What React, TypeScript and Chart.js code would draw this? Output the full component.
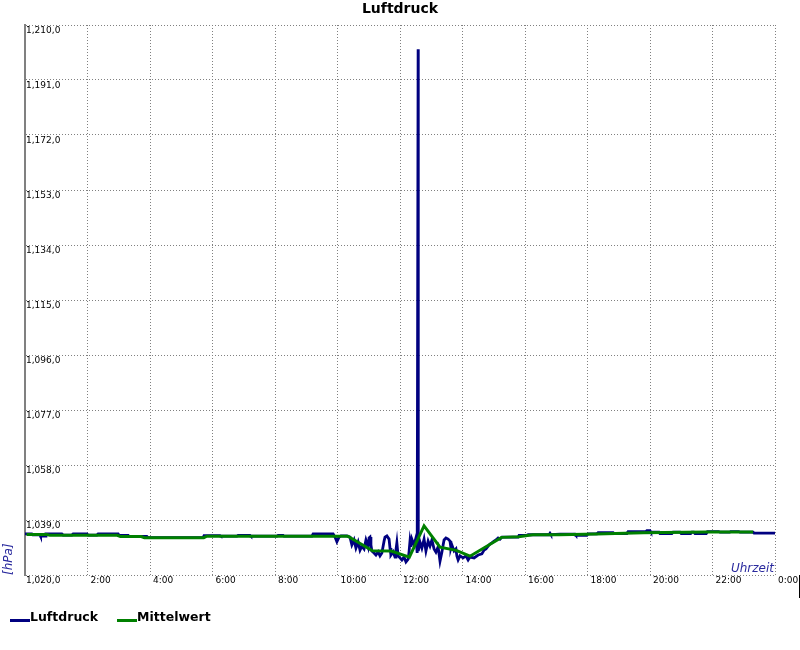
import React, { useEffect, useRef } from 'react';
import { Chart, registerables } from 'chart.js';

Chart.register(...registerables);

const chartTitle = 'Luftdruck';
const yAxisTitle = '[hPa]';
const xAxisTitle = 'Uhrzeit';
const seriesNames = ['Luftdruck', 'Mittelwert'];
const seriesColors = ['#000080', '#008000'];

const yTicks = [1020, 1039, 1058, 1077, 1096, 1115, 1134, 1153, 1172, 1191, 1210];
const yTickLabels = ['1,020,0', '1,039,0', '1,058,0', '1,077,0', '1,096,0', '1,115,0', '1,134,0', '1,153,0', '1,172,0', '1,191,0', '1,210,0'];
const xTicks = [0, 2, 4, 6, 8, 10, 12, 14, 16, 18, 20, 22, 24];
const xTickLabels = ['', '2:00', '4:00', '6:00', '8:00', '10:00', '12:00', '14:00', '16:00', '18:00', '20:00', '22:00', '0:00'];

// Luftdruck (hours of day, hPa)
const luftdruckHours = [
  0.00, 0.22, 0.25, 0.48, 0.50, 0.64, 0.67, 1.18, 1.22, 1.50, 1.54, 1.98, 2.02, 2.30, 2.34, 2.98,
  3.01, 3.30, 3.33, 3.90, 3.94, 5.70, 5.73, 6.24, 6.27, 6.78, 6.82, 7.20, 7.23, 8.06, 8.10, 8.26,
  8.29, 9.18, 9.22, 9.86, 9.92, 9.98, 10.05, 10.11, 10.30, 10.40, 10.46, 10.53, 10.59, 10.66, 10.72,
  10.78, 10.85, 10.91, 10.98, 11.01, 11.04, 11.07, 11.10, 11.17, 11.23, 11.30, 11.36, 11.42, 11.49,
  11.52, 11.58, 11.65, 11.68, 11.71, 11.78, 11.84, 11.87, 11.90, 11.94, 12.00, 12.06, 12.13, 12.19,
  12.26, 12.29, 12.32, 12.35, 12.38, 12.45, 12.51, 12.55, 12.575, 12.58, 12.585, 12.64, 12.70, 12.77,
  12.83, 12.90, 12.96, 13.02, 13.09, 13.15, 13.22, 13.28, 13.34, 13.38, 13.41, 13.47, 13.54, 13.60,
  13.63, 13.66, 13.73, 13.79, 13.82, 13.86, 13.92, 14.02, 14.11, 14.18, 14.24, 14.37, 14.50, 14.62,
  14.69, 14.75, 14.82, 14.88, 14.94, 15.01, 15.07, 15.14, 15.20, 15.26, 15.78, 15.81, 16.06, 16.10,
  16.77, 16.80, 16.83, 17.12, 17.60, 17.63, 17.98, 18.02, 18.30, 18.34, 18.82, 18.85, 19.26, 19.30,
  19.87, 19.90, 20.00, 20.03, 20.29, 20.32, 20.70, 20.74, 20.96, 21.00, 21.30, 21.34, 21.40, 21.44,
  21.80, 21.84, 22.20, 22.24, 22.55, 22.58, 22.84, 22.88, 23.30, 23.33, 24.00,
];
const luftdruckValues = [
  1034.2, 1034.2, 1033.9, 1033.9, 1033.4, 1033.4, 1034.2, 1034.2, 1033.8, 1033.8, 1034.2, 1034.2, 1033.8, 1033.8, 1034.2, 1034.2,
  1033.7, 1033.7, 1033.3, 1033.3, 1032.9, 1032.9, 1033.6, 1033.6, 1033.4, 1033.4, 1033.7, 1033.7, 1033.4, 1033.4, 1033.7, 1033.7,
  1033.4, 1033.4, 1034.2, 1034.2, 1033.1, 1031.5, 1033.1, 1033.5, 1033.5, 1033.1, 1030.4, 1032.1, 1029.3, 1031.4, 1028.6,
  1030.0, 1029.0, 1032.1, 1029.7, 1032.8, 1033.1, 1030.4, 1028.3, 1027.6, 1026.9, 1028.0, 1026.6, 1027.6, 1031.7,
  1033.1, 1033.5, 1032.4, 1029.3, 1026.9, 1028.0, 1026.2, 1028.6, 1031.1, 1026.6, 1025.9, 1025.2, 1026.2, 1024.5,
  1025.5, 1028.0, 1031.7, 1029.7, 1032.4, 1030.4, 1032.8, 1027.6, 1027.6, 1201.6, 1028.3, 1031.4, 1029.3, 1032.4,
  1028.3, 1031.7, 1030.0, 1032.1, 1029.0, 1027.9, 1029.7, 1024.8, 1027.9, 1030.4, 1032.1, 1032.8, 1032.4, 1031.7,
  1029.3, 1030.4, 1028.3, 1029.0, 1026.6, 1025.2, 1026.6, 1025.9, 1026.6, 1025.2, 1026.2, 1025.9, 1026.9, 1027.3,
  1028.6, 1029.0, 1030.0, 1030.7, 1031.1, 1031.7, 1032.1, 1032.8, 1032.4, 1033.1, 1033.1, 1033.7, 1033.7, 1033.9,
  1033.9, 1034.4, 1033.9, 1034.1, 1034.1, 1033.7, 1033.7, 1034.2, 1034.2, 1034.6, 1034.6, 1034.3, 1034.3, 1035.0,
  1035.0, 1035.3, 1035.3, 1034.8, 1034.8, 1034.3, 1034.3, 1034.8, 1034.8, 1034.3, 1034.3, 1034.8, 1034.8, 1034.3,
  1034.3, 1035.0, 1035.0, 1034.8, 1034.8, 1035.0, 1035.0, 1034.8, 1034.8, 1034.5, 1034.5,
];

// Mittelwert (hours of day, hPa)
const mittelwertHours = [
  0.05, 0.70, 0.80, 2.95, 3.05, 3.72, 3.82, 5.72, 5.82, 10.33, 11.12, 11.72, 12.30, 12.77, 13.28,
  13.80, 14.24, 15.25, 15.80, 16.25, 17.10, 18.30, 19.78, 21.80, 23.30,
];
const mittelwertValues = [
  1034.0, 1034.0, 1033.7, 1033.7, 1033.3, 1033.3, 1032.9, 1032.9, 1033.4, 1033.4, 1028.4, 1028.3, 1026.2, 1037.0, 1029.6,
  1028.5, 1026.5, 1033.0, 1033.2, 1033.9, 1033.9, 1034.2, 1034.6, 1034.85, 1034.85,
];

const FONT = '"DejaVu Sans", Verdana, sans-serif';

const decorPlugin = {
  id: 'decor',
  afterDraw(chart: any) {
    const { ctx, chartArea } = chart;
    ctx.save();
    // title
    ctx.fillStyle = '#000';
    ctx.font = `bold 14px ${FONT}`;
    ctx.textAlign = 'center';
    ctx.textBaseline = 'alphabetic';
    ctx.fillText(chartTitle, chart.width / 2, 13);

    // axis titles
    ctx.fillStyle = '#2a2a9e';
    ctx.font = `italic 12px ${FONT}`;
    ctx.textAlign = 'right';
    ctx.fillText(xAxisTitle, chartArea.right - 1, chartArea.bottom - 3);
    ctx.save();
    ctx.translate(11.5, chartArea.bottom);
    ctx.rotate(-Math.PI / 2);
    ctx.textAlign = 'left';
    ctx.fillText(yAxisTitle, 0, 0);
    ctx.restore();

    // legend
    ctx.font = `bold 12.5px ${FONT}`;
    ctx.textAlign = 'left';
    let x = 10;
    const y = 621;
    seriesNames.forEach((name, i) => {
      ctx.fillStyle = seriesColors[i];
      ctx.fillRect(x, y - 2, 20, 3);
      ctx.fillStyle = '#000';
      ctx.fillText(name, x + 20, y);
      x += 20 + ctx.measureText(name).width + 19;
    });

    // right edge mark
    ctx.fillStyle = '#000';
    ctx.fillRect(chart.width - 1, chartArea.bottom, 1, 23);
    ctx.restore();
  },
};

export default function App() {
  const canvasRef = useRef<HTMLCanvasElement | null>(null);

  useEffect(() => {
    document.body.style.margin = '0';
    const canvas = canvasRef.current;
    if (!canvas) return;
    const chart = new Chart(canvas, {
      type: 'line',
      data: {
        datasets: [
          {
            label: seriesNames[0],
            data: luftdruckHours.map((h, i) => ({ x: h, y: luftdruckValues[i] })),
            borderColor: seriesColors[0],
            backgroundColor: seriesColors[0],
            borderWidth: 2.8,
            pointRadius: 0,
            tension: 0,
            order: 1,
          },
          {
            label: seriesNames[1],
            data: mittelwertHours.map((h, i) => ({ x: h, y: mittelwertValues[i] })),
            borderColor: seriesColors[1],
            backgroundColor: seriesColors[1],
            borderWidth: 3,
            pointRadius: 0,
            tension: 0,
            order: 0,
          },
        ],
      },
      options: {
        animation: false,
        responsive: false,
        maintainAspectRatio: false,
        devicePixelRatio: 1,
        events: [],
        layout: { padding: { left: 25, right: 25, top: 25, bottom: 55 } },
        plugins: {
          legend: { display: false },
          title: { display: false },
          tooltip: { enabled: false },
        },
        scales: {
          x: {
            type: 'linear',
            min: 0,
            max: 24,
            afterBuildTicks: (s: any) => {
              s.ticks = xTicks.map((v) => ({ value: v }));
            },
            afterFit: (s: any) => {
              s.height = 20;
            },
            ticks: {
              autoSkip: false,
              maxRotation: 0,
              minRotation: 0,
              align: 'start',
              labelOffset: 3,
              padding: 0,
              color: '#000',
              font: { family: FONT, size: 9 },
              callback: (_v: any, i: number) => xTickLabels[i],
            },
            grid: { color: '#808080', lineWidth: 1, drawTicks: false },
            border: { display: false, dash: [1, 2] },
          },
          y: {
            type: 'linear',
            min: 1020,
            max: 1210,
            afterBuildTicks: (s: any) => {
              s.ticks = yTicks.map((v) => ({ value: v }));
            },
            afterFit: (s: any) => {
              s.width = 0;
            },
            ticks: {
              mirror: true,
              padding: 1,
              labelOffset: 6,
              color: '#000',
              font: { family: FONT, size: 9 },
              callback: (_v: any, i: number) => yTickLabels[i],
            },
            grid: { color: '#808080', lineWidth: 1, drawTicks: false },
            border: { display: true, color: '#808080', width: 2, dash: [1, 2] },
          },
        },
      } as any,
      plugins: [decorPlugin],
    });
    return () => chart.destroy();
  }, []);

  return <canvas ref={canvasRef} width={800} height={650} style={{ display: 'block' }} />;
}
